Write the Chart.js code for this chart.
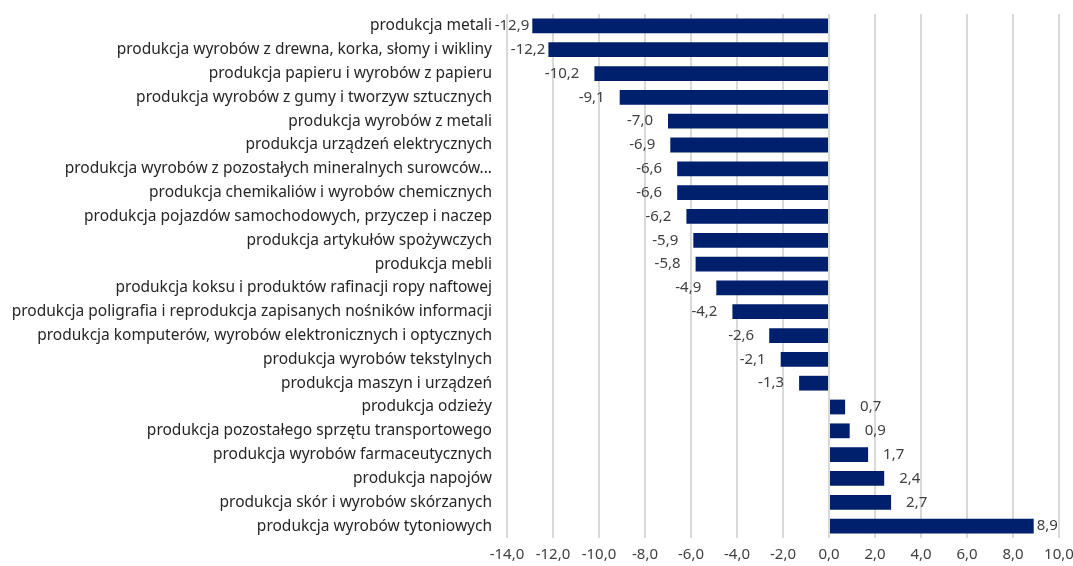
<!DOCTYPE html>
<html>
<head>
<meta charset="utf-8">
<script src="https://cdn.jsdelivr.net/npm/chart.js@4"></script>
<style>
  html, body { margin: 0; padding: 0; background: #fff; }
  #wrap { width: 1073px; height: 566px; }
</style>
</head>
<body>
<div id="wrap"><canvas id="barChart"></canvas></div>
<script>
// kategorie (od góry)
var categories = [
  "produkcja metali",
  "produkcja wyrobów z drewna, korka, słomy i wikliny",
  "produkcja papieru i wyrobów z papieru",
  "produkcja wyrobów z gumy i tworzyw sztucznych",
  "produkcja wyrobów z metali",
  "produkcja urządzeń elektrycznych",
  "produkcja wyrobów z pozostałych mineralnych surowców...",
  "produkcja chemikaliów i wyrobów chemicznych",
  "produkcja pojazdów samochodowych, przyczep i naczep",
  "produkcja artykułów spożywczych",
  "produkcja mebli",
  "produkcja koksu i produktów rafinacji ropy naftowej",
  "produkcja poligrafia i reprodukcja zapisanych nośników informacji",
  "produkcja komputerów, wyrobów elektronicznych i optycznych",
  "produkcja wyrobów tekstylnych",
  "produkcja maszyn i urządzeń",
  "produkcja odzieży",
  "produkcja pozostałego sprzętu transportowego",
  "produkcja wyrobów farmaceutycznych",
  "produkcja napojów",
  "produkcja skór i wyrobów skórzanych",
  "produkcja wyrobów tytoniowych"
];
var values = [-12.9, -12.2, -10.2, -9.1, -7.0, -6.9, -6.6, -6.6, -6.2, -5.9, -5.8,
  -4.9, -4.2, -2.6, -2.1, -1.3, 0.7, 0.9, 1.7, 2.4, 2.7, 8.9];
var xMin = -14, xMax = 10, xStep = 2;

function fmt(v) { return v.toFixed(1).replace('.', ','); }

Chart.defaults.font.family = "'Noto Sans', sans-serif";
Chart.defaults.font.size = 15;
Chart.defaults.color = '#404040';

// etykiety danych
var valueLabels = {
  id: 'valueLabels',
  afterDatasetsDraw: function(chart) {
    var ctx = chart.ctx, area = chart.chartArea;
    var meta = chart.getDatasetMeta(0);
    ctx.save();
    ctx.font = "15px 'Noto Sans', sans-serif";
    ctx.fillStyle = '#404040';
    ctx.textBaseline = 'middle';
    meta.data.forEach(function(bar, i) {
      var v = values[i], txt = fmt(v);
      var w = ctx.measureText(txt).width;
      var x;
      if (v < 0) {
        x = bar.x - 15 - w;
        if (x < area.left) x = bar.x - 3 - w;
      } else {
        x = bar.x + 15;
        if (x + w > area.right) x = bar.x + 3;
      }
      ctx.textAlign = 'left';
      ctx.fillText(txt, x, bar.y);
    });
    ctx.restore();
  }
};

function noPad(s) {
  s.paddingTop = 0; s.paddingBottom = 0; s.paddingLeft = 0; s.paddingRight = 0;
}

var ctx = document.getElementById('barChart').getContext('2d');
var chart = new Chart(ctx, {
  type: 'bar',
  data: {
    labels: categories,
    datasets: [{
      data: values,
      backgroundColor: '#00206E',
      borderWidth: 0,
      categoryPercentage: 1,
      barPercentage: 0.62
    }]
  },
  options: {
    indexAxis: 'y',
    responsive: true,
    maintainAspectRatio: false,
    animation: false,
    layout: { padding: { top: 14, right: 14, left: 0, bottom: 0 } },
    plugins: { legend: { display: false }, tooltip: { enabled: false } },
    scales: {
      x: {
        min: xMin, max: xMax,
        ticks: { stepSize: xStep, padding: 8, color: '#404040', callback: function(v) { return fmt(v); } },
        grid: { color: '#d9d9d9', lineWidth: 2, drawTicks: false },
        border: { display: false },
        afterFit: function(s) { s.height = 28; noPad(s); }
      },
      y: {
        ticks: { color: '#262626', padding: 15, autoSkip: false, font: { size: 15.5 } },
        grid: { display: false, drawTicks: false },
        border: { display: false },
        afterFit: function(s) { s.width = 507; noPad(s); }
      }
    }
  },
  plugins: [valueLabels]
});
</script>
</body>
</html>
